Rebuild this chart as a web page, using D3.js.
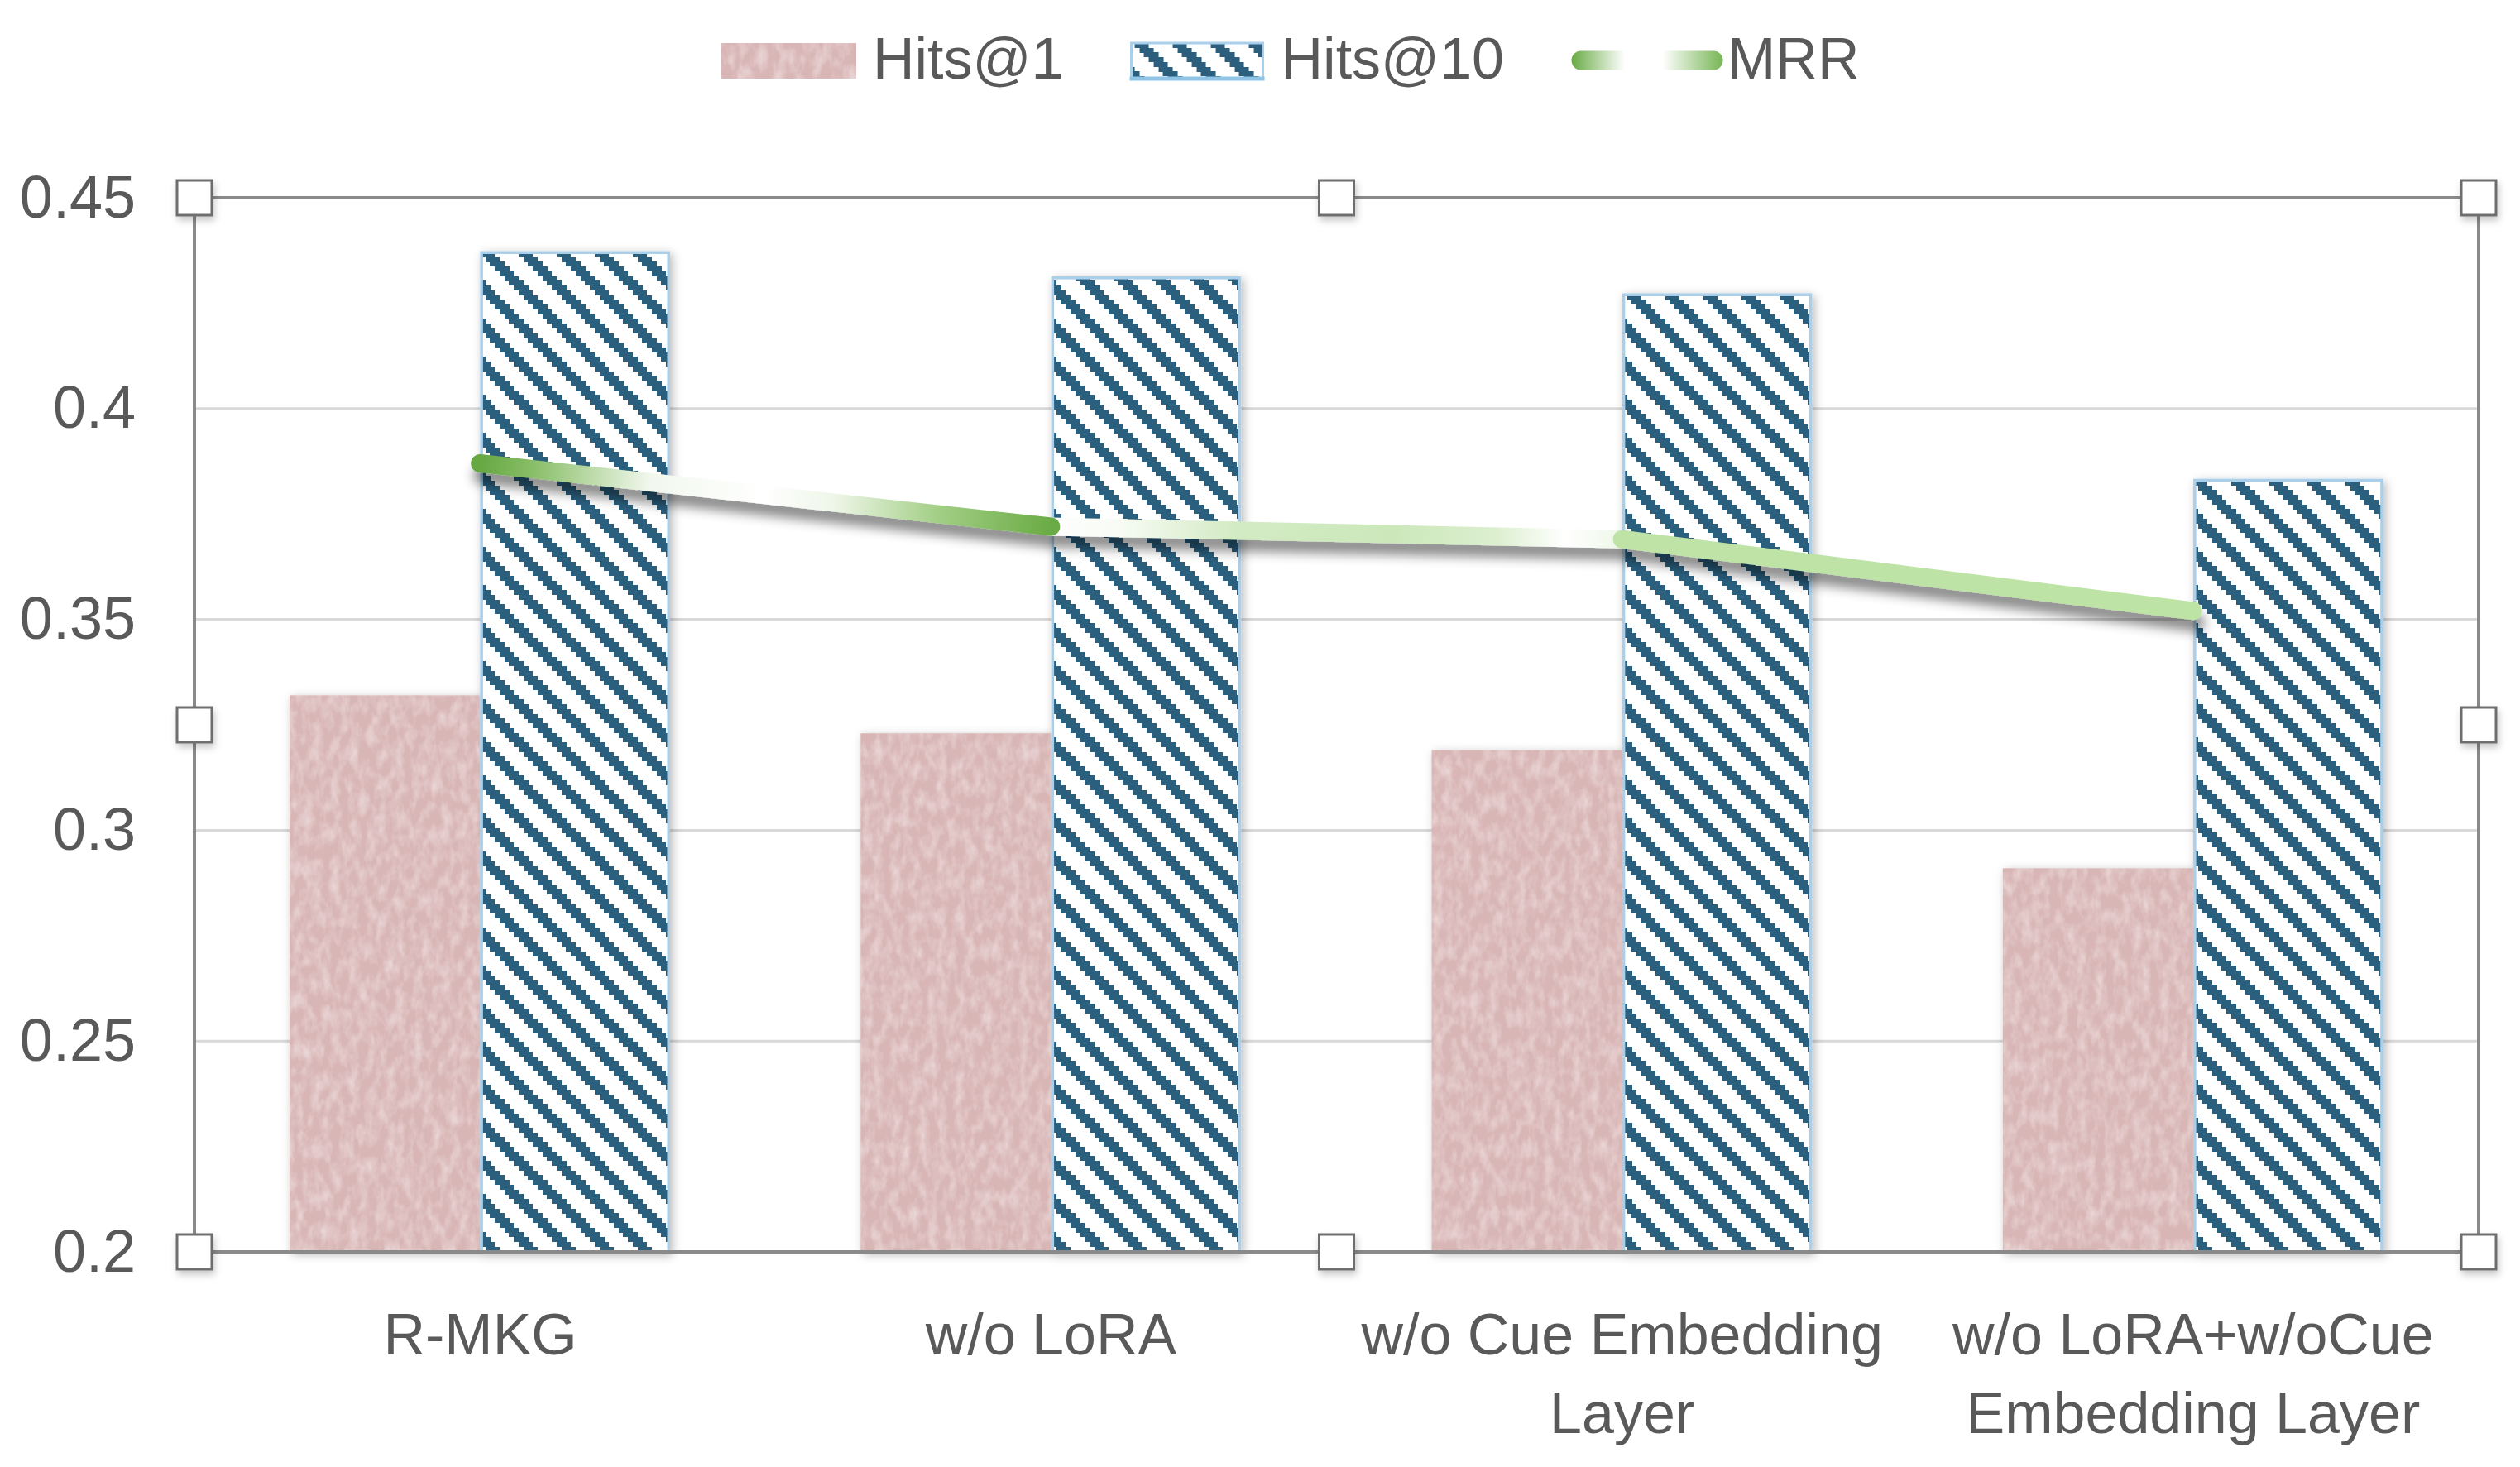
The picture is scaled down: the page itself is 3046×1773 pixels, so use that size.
<!DOCTYPE html>
<html>
<head>
<meta charset="utf-8">
<script src="https://cdn.jsdelivr.net/npm/d3@7"></script>
<style>
  html, body { margin: 0; padding: 0; background: #ffffff; }
  svg { display: block; }
  text { font-family: "Liberation Sans", Arial, sans-serif; fill: #595959; }
</style>
</head>
<body>
<svg id="chart" width="3046" height="1773"></svg>
<script>
// ---------------- data ----------------
const categories = ["R-MKG", "w/o LoRA", "w/o Cue Embedding Layer", "w/o LoRA+w/oCue Embedding Layer"];
const seriesNames = ["Hits@1", "Hits@10", "MRR"];
const hits1  = [0.332, 0.323, 0.319, 0.291];
const hits10 = [0.437, 0.431, 0.427, 0.383];
const mrr    = [0.387, 0.372, 0.369, 0.352];
const yTickValues = [0.2, 0.25, 0.3, 0.35, 0.4, 0.45];
const yTickLabels = ["0.2", "0.25", "0.3", "0.35", "0.4", "0.45"];

// ---------------- layout ----------------
const W = 3046, H = 1773;
const margin = { left: 235, right: 50, top: 239, bottom: 260 };
const svg = d3.select("#chart");
svg.append("rect").attr("width", W).attr("height", H).attr("fill", "#fff");

const x = d3.scaleBand().domain(categories).range([margin.left, W - margin.right]).paddingInner(0).paddingOuter(0);
const x1 = d3.scaleBand().domain(seriesNames.slice(0, 2)).range([0, x.bandwidth()]).paddingInner(0).paddingOuter(0.5);
const y = d3.scaleLinear().domain([0.2, 0.45]).range([H - margin.bottom, margin.top]);

const defs = svg.append("defs");

// hatch pattern (Excel wide downward diagonal, 8x8 pixel tile scaled)
const tile = 46, px = tile / 8;
const pat = defs.append("pattern").attr("id", "hatch").attr("patternUnits", "userSpaceOnUse")
  .attr("width", tile).attr("height", tile);
pat.append("rect").attr("width", tile).attr("height", tile).attr("fill", "#ffffff");
for (let r = 0; r < 8; r++) {
  for (let k = 0; k < 3; k++) {
    const c = (r + k) % 8;
    pat.append("rect").attr("x", c * px).attr("y", r * px).attr("width", px + 0.4).attr("height", px + 0.4)
      .attr("fill", "#2C5E7E").attr("shape-rendering", "crispEdges");
  }
}

// paper texture filter for Hits@1
const tex = defs.append("filter").attr("id", "paper").attr("x", 0).attr("y", 0).attr("width", 1).attr("height", 1);
tex.append("feTurbulence").attr("type", "fractalNoise").attr("baseFrequency", "0.09 0.05")
  .attr("numOctaves", 3).attr("seed", 4).attr("result", "n");
tex.append("feColorMatrix").attr("in", "n").attr("type", "matrix")
  .attr("values", "0 0 0 0 1  0 0 0 0 0.94  0 0 0 0 0.94  0.8 0 0 0 -0.3").attr("result", "w");
tex.append("feComposite").attr("in", "w").attr("in2", "SourceGraphic").attr("operator", "in").attr("result", "wi");
const tm = tex.append("feMerge");
tm.append("feMergeNode").attr("in", "SourceGraphic");
tm.append("feMergeNode").attr("in", "wi");

function shadow(id, dx, dy, sd, op) {
  const f = defs.append("filter").attr("id", id).attr("filterUnits", "userSpaceOnUse")
    .attr("x", 0).attr("y", 0).attr("width", W).attr("height", H);
  f.append("feDropShadow").attr("dx", dx).attr("dy", dy).attr("stdDeviation", sd)
    .attr("flood-color", "#000").attr("flood-opacity", op);
}
shadow("barShadow", 3, 3, 6, 0.28);
shadow("lineShadow", 3, 14, 7, 0.45);
shadow("handleShadow", 2, 5, 4, 0.22);

// ---------------- gridlines ----------------
svg.append("g").selectAll("line").data(yTickValues.filter(v => v > 0.2 && v < 0.45)).join("line")
  .attr("x1", margin.left).attr("x2", W - margin.right)
  .attr("y1", d => y(d)).attr("y2", d => y(d))
  .attr("stroke", "#d9d9d9").attr("stroke-width", 3);

// ---------------- y axis labels ----------------
const yAxis = d3.axisLeft(y).tickValues(yTickValues)
  .tickFormat((d, i) => yTickLabels[i]).tickSize(0).tickPadding(71);
const gy = svg.append("g").attr("transform", `translate(${margin.left},0)`).call(yAxis);
gy.select(".domain").remove();
gy.selectAll("text").attr("font-size", 72).attr("fill", "#595959")
  .style("font-family", "'Liberation Sans', Arial, sans-serif");

// ---------------- bars ----------------
const gBars = svg.append("g").attr("filter", "url(#barShadow)");
gBars.selectAll("rect.h1").data(hits1).join("rect").attr("class", "h1")
  .attr("x", (d, i) => x(categories[i]) + x1("Hits@1"))
  .attr("y", d => y(d))
  .attr("width", x1.bandwidth())
  .attr("height", d => y(0.2) - y(d))
  .attr("fill", "#D9B6B6").attr("filter", "url(#paper)");
gBars.selectAll("rect.h10").data(hits10).join("rect").attr("class", "h10")
  .attr("x", (d, i) => x(categories[i]) + x1("Hits@10") + 2)
  .attr("y", d => y(d))
  .attr("width", x1.bandwidth() - 4)
  .attr("height", d => y(0.2) - y(d))
  .attr("fill", "url(#hatch)").attr("stroke", "#a9cfea").attr("stroke-width", 3.5);

// ---------------- frame (plot area border) ----------------
const frame = svg.append("g").attr("stroke", "#8a8a8a").attr("stroke-width", 4);
const [L, R] = x.range();
const T = y(0.45), B = y(0.2);
frame.append("line").attr("x1", L).attr("x2", R).attr("y1", T).attr("y2", T);
frame.append("line").attr("x1", L).attr("x2", R).attr("y1", B).attr("y2", B);
frame.append("line").attr("x1", L).attr("x2", L).attr("y1", T).attr("y2", B);
frame.append("line").attr("x1", R).attr("x2", R).attr("y1", T).attr("y2", B);

// ---------------- MRR line ----------------
const cx = i => x(categories[i]) + x.bandwidth() / 2;
const segStops = [
  [[0, "#66a842"], [0.1, "#8cc06c"], [0.3, "#f2f8ee"], [0.5, "#ffffff"], [0.62, "#eef6e8"], [0.8, "#a3cf86"], [1, "#6aab45"]],
  [[0, "#ffffff"], [0.12, "#f7fbf4"], [0.32, "#d3ebc4"], [0.6, "#cce8ba"], [0.78, "#dcefd0"], [0.9, "#ffffff"], [1, "#eef7e8"]],
  [[0, "#bfe3a7"], [1, "#bde3a5"]]
];
const segs = d3.pairs(mrr.map((v, i) => [cx(i), y(v)])).map((p, i) => ({ p, i }));
segs.forEach(s => {
  const g = defs.append("linearGradient").attr("id", "mrrSeg" + s.i).attr("gradientUnits", "userSpaceOnUse")
    .attr("x1", s.p[0][0]).attr("y1", s.p[0][1]).attr("x2", s.p[1][0]).attr("y2", s.p[1][1]);
  segStops[s.i % segStops.length].forEach(st => g.append("stop").attr("offset", st[0]).attr("stop-color", st[1]));
});
const drawOrder = [1, 0, 2];
const gLine = svg.append("g").attr("filter", "url(#lineShadow)");
gLine.selectAll("path").data(drawOrder.map(k => segs[k])).join("path")
  .attr("d", s => d3.line()(s.p))
  .attr("fill", "none")
  .attr("stroke", s => `url(#mrrSeg${s.i})`)
  .attr("stroke-width", 22).attr("stroke-linecap", "round");

// ---------------- x axis labels ----------------
const xAxis = d3.axisBottom(x).tickSize(0).tickPadding(0);
const gx = svg.append("g").attr("transform", `translate(0,${B})`).call(xAxis);
gx.select(".domain").remove();
gx.selectAll("text").attr("font-size", 70).attr("fill", "#595959")
  .style("font-family", "'Liberation Sans', Arial, sans-serif")
  .each(function (d) {
    const t = d3.select(this);
    const words = d.split(" ");
    t.text(null).attr("y", 0).attr("dy", null);
    const maxW = x.bandwidth() * 0.93;
    let line = [], lines = [];
    let tsp = t.append("tspan");
    words.forEach(w => {
      line.push(w);
      tsp.text(line.join(" "));
      if (tsp.node().getComputedTextLength() > maxW && line.length > 1) {
        line.pop();
        lines.push(line.join(" "));
        line = [w];
        tsp.text(w);
      }
    });
    lines.push(line.join(" "));
    t.text(null);
    lines.forEach((ln, k) => {
      t.append("tspan").attr("x", 0).attr("y", 124 + k * 95).text(ln);
    });
  });

// ---------------- handles ----------------
const hs = 42;
const handlePts = [[L, T], [(L + R) / 2, T], [R, T], [L, (T + B) / 2], [R, (T + B) / 2], [L, B], [(L + R) / 2, B], [R, B]];
svg.append("g").attr("filter", "url(#handleShadow)").selectAll("rect").data(handlePts).join("rect")
  .attr("x", d => d[0] - hs / 2).attr("y", d => d[1] - hs / 2)
  .attr("width", hs).attr("height", hs)
  .attr("fill", "#ffffff").attr("stroke", "#6e6e6e").attr("stroke-width", 3);

// ---------------- legend ----------------
const legend = svg.append("g").attr("transform", "translate(872,0)");
const swW = 163, swH = 43, swY = 52, textGap = 20, itemGap = 80, baseY = 95;
let lx = 0;
seriesNames.forEach((name, i) => {
  const g = legend.append("g").attr("transform", `translate(${lx},0)`);
  let sw;
  if (i === 0) {
    g.append("rect").attr("x", 0).attr("y", swY).attr("width", swW).attr("height", swH)
      .attr("fill", "#D9B6B6").attr("filter", "url(#paper)");
    sw = swW;
  } else if (i === 1) {
    g.append("rect").attr("x", 2).attr("y", swY).attr("width", swW - 4).attr("height", swH)
      .attr("fill", "url(#hatch)").attr("stroke", "#a9cfea").attr("stroke-width", 3);
    g.append("line").attr("x1", 0).attr("x2", swW).attr("y1", swY + swH).attr("y2", swY + swH)
      .attr("stroke", "#8ec4e6").attr("stroke-width", 5);
    sw = swW;
  } else {
    const x0 = 13, x1l = 173;
    const lg = defs.append("linearGradient").attr("id", "mrrLegend").attr("gradientUnits", "userSpaceOnUse")
      .attr("x1", x0 - 11).attr("x2", x1l + 11).attr("y1", 0).attr("y2", 0);
    [[0, "#6aab45"], [0.35, "#ffffff"], [0.6, "#ffffff"], [1, "#78b656"]].forEach(st =>
      lg.append("stop").attr("offset", st[0]).attr("stop-color", st[1]));
    g.append("line").attr("x1", x0).attr("x2", x1l).attr("y1", 73).attr("y2", 73)
      .attr("stroke", "url(#mrrLegend)").attr("stroke-width", 23).attr("stroke-linecap", "round");
    sw = 190;
  }
  const tx = g.append("text").attr("x", sw + (i === 2 ? 0 : textGap)).attr("y", baseY)
    .attr("font-size", 70).text(name);
  lx += sw + (i === 2 ? 0 : textGap) + tx.node().getComputedTextLength() + itemGap;
});
</script>
</body>
</html>
